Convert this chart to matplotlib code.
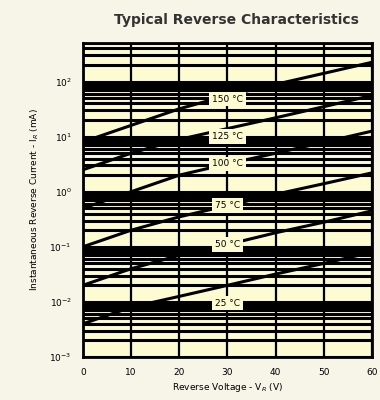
import matplotlib
matplotlib.use("Agg")
import matplotlib.pyplot as plt
from matplotlib.ticker import LogLocator, NullFormatter

# reverse voltage (V)
voltage = [0, 10, 20, 30, 40, 50, 60]

# reverse current (mA) per junction temperature
temps = ["150 °C", "125 °C", "100 °C", "75 °C", "50 °C", "25 °C"]
i_150 = [8.0, 16.0, 32.0, 56.0, 89.0, 141.0, 224.0]
i_125 = [2.5, 5.0, 8.9, 14.0, 22.0, 35.0, 56.0]
i_100 = [0.5, 1.0, 2.0, 3.2, 5.0, 7.9, 12.6]
i_75 = [0.1, 0.2, 0.35, 0.56, 0.9, 1.4, 2.2]
i_50 = [0.02, 0.04, 0.07, 0.11, 0.18, 0.28, 0.45]
i_25 = [0.004, 0.008, 0.0126, 0.02, 0.032, 0.05, 0.08]
currents = [i_150, i_125, i_100, i_75, i_50, i_25]

# where the temperature tags sit (at 30 V)
label_current = [48.0, 10.0, 3.2, 0.56, 0.11, 0.0095]

xticks = [0, 10, 20, 30, 40, 50, 60]

fig = plt.figure(figsize=(3.8, 4.0), dpi=100, facecolor="#f6f5e8")
ax = fig.add_axes([0.218, 0.1075, 0.761, 0.785])
ax.set_facecolor("#fdfbd2")

for label, cur, ly in zip(temps, currents, label_current):
    ax.plot(voltage, cur, color="black", lw=2.2)
    ax.text(30, ly, label, ha="center", va="center", fontsize=6.5,
            bbox=dict(boxstyle="square,pad=0.3", fc="#fdfbd2", ec="none"))

ax.set_yscale("log")
ax.set_xlim(0, 60)
ax.set_ylim(1e-3, 10 ** 2.7)
ax.set_xticks(xticks)
ax.set_yticks([1e-3, 1e-2, 1e-1, 1e0, 1e1, 1e2])
ax.yaxis.set_minor_locator(LogLocator(base=10, subs=range(2, 10)))
ax.yaxis.set_minor_formatter(NullFormatter())

ax.grid(True, which="major", axis="x", color="black", lw=1.6)
ax.grid(True, which="both", axis="y", color="black", lw=2.2)
ax.tick_params(which="both", length=0, labelsize=6.5, pad=8)
for s in ax.spines.values():
    s.set_linewidth(2)

ax.set_title("Typical Reverse Characteristics", fontsize=10,
             fontweight="bold", pad=14, color="#333333", x=0.53)
ax.set_xlabel("Reverse Voltage - V$_R$ (V)", fontsize=6.5, labelpad=3)
ax.set_ylabel("Instantaneous Reverse Current - I$_R$ (mA)", fontsize=6.5,
              labelpad=6)

fig.savefig("out.png", dpi=100, facecolor=fig.get_facecolor())
